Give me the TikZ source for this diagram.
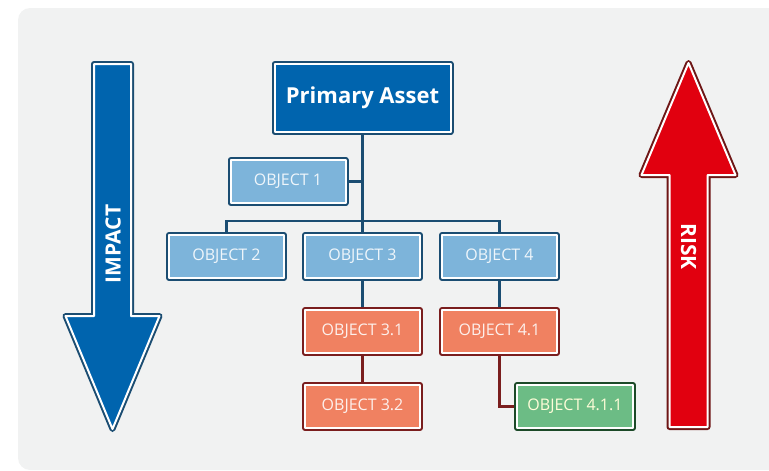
\documentclass[tikz,border=0pt]{standalone}
\usepackage{fontspec}
\setmainfont{Open Sans}

\definecolor{panelgray}{HTML}{F1F2F2}
\definecolor{assetblue}{HTML}{0064AE}
\definecolor{navyline}{HTML}{1B4D72}
\definecolor{lightblue}{HTML}{7DB4DA}
\definecolor{salmon}{HTML}{F08161}
\definecolor{darkred}{HTML}{7A1E1E}
\definecolor{leafgreen}{HTML}{6CBC85}
\definecolor{darkgreen}{HTML}{1C4A28}
\definecolor{riskred}{HTML}{E1000F}
\definecolor{riskline}{HTML}{6E1616}

\pgfdeclarelayer{panel}
\pgfdeclarelayer{links}
\pgfsetlayers{panel,links,main}

\tikzset{
  framed/.style={draw=white, line width=2pt, line join=round,
    preaction={draw=#1, line width=6pt, line join=round}},
  objbox/.style={minimum width=115pt, minimum height=43pt, inner sep=0pt,
    font=\fontsize{16}{16}\selectfont},
  bluebox/.style={objbox, framed=navyline, fill=lightblue, text=white!88!lightblue},
  redbox/.style={objbox, framed=darkred, fill=salmon, text=white!88!salmon},
  greenbox/.style={objbox, framed=darkgreen, fill=leafgreen, text=white!85!yellow},
  assetbox/.style={framed=navyline, fill=assetblue, text=white, inner sep=0pt,
    minimum width=176pt, minimum height=68pt,
    font=\bfseries\fontsize{22}{22}\selectfont},
  bluelink/.style={draw=navyline, line width=2.4pt},
  redlink/.style={draw=darkred, line width=2.4pt},
  arrowlabel/.style={text=white, font=\bfseries\fontsize{21}{21}\selectfont}
}

\begin{document}
\begin{tikzpicture}[x=1pt, y=-1pt]
\useasboundingbox (0,0) rectangle (769,471);

% background panel
\begin{pgfonlayer}{panel}
\fill[panelgray, rounded corners=12pt] (18,8) rectangle (800,470);
\end{pgfonlayer}

% impact arrow (pointing down)
\path[framed=navyline, fill=assetblue]
  (94,64) -- (131,64) -- (131,316) -- (159.5,316) -- (112.5,429)
  -- (65.5,316) -- (94,316) -- cycle;
\node[arrowlabel, rotate=90] (impact) at (113,244) {IMPACT};

% risk arrow (pointing up)
\path[framed=riskline, fill=riskred]
  (688.5,63) -- (735.5,175) -- (707.5,175) -- (707.5,427)
  -- (669.5,427) -- (669.5,175) -- (641.5,175) -- cycle;
\node[arrowlabel, rotate=-90] (risk) at (688.5,246.5) {RISK};

% hierarchy nodes
\node[assetbox] (pa) at (362.5,98) {Primary Asset};
\node[bluebox] (o1) at (288,181.5) {OBJECT 1};
\node[bluebox] (o2) at (226.5,256.5) {OBJECT 2};
\node[bluebox] (o3) at (362.5,256.5) {OBJECT 3};
\node[bluebox] (o4) at (499.5,256.5) {OBJECT 4};
\node[redbox] (o31) at (362.5,331.5) {OBJECT 3.1};
\node[redbox] (o41) at (499.5,331.5) {OBJECT 4.1};
\node[redbox] (o32) at (362.5,406.5) {OBJECT 3.2};
\node[greenbox, minimum width=116pt] (o411) at (575,406.5) {OBJECT 4.1.1};

% connectors, drawn beneath the boxes
\begin{pgfonlayer}{links}
\draw[bluelink] (pa.south) -- (o3.north);
\draw[bluelink] (o1.east) -- (o1.east -| pa.south);
\draw[bluelink] (o2.north) -- ++(0,-13) -| (o4.north);
\draw[bluelink] (o3.south) -- (o31.north);
\draw[bluelink] (o4.south) -- (o41.north);
\draw[redlink] (o31.south) -- (o32.north);
\draw[redlink] (o41.south) |- (o411.west);
\end{pgfonlayer}
\end{tikzpicture}
\end{document}
